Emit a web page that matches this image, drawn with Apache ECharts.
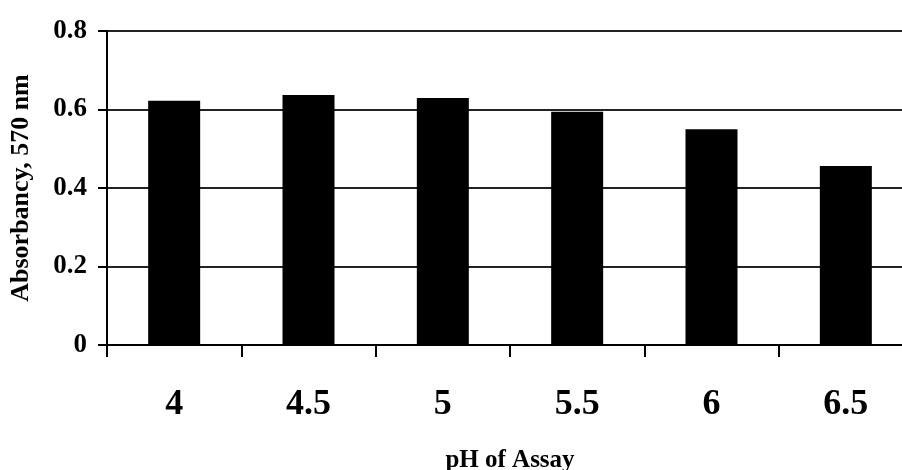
<!DOCTYPE html>
<html>
<head>
<meta charset="utf-8">
<script src="https://cdn.jsdelivr.net/npm/echarts@6/dist/echarts.min.js"></script>
<style>
html,body{margin:0;padding:0;background:#fff;overflow:hidden;}
#chart{width:902px;height:470px;}
</style>
</head>
<body>
<div id="chart"></div>
<script>
const categories = ['4', '4.5', '5', '5.5', '6', '6.5'];
const absorbancy = [0.622, 0.637, 0.629, 0.594, 0.550, 0.456];
const yTicks = [0, 0.2, 0.4, 0.6, 0.8];

const font = '"Liberation Serif", "Times New Roman", serif';
const chart = echarts.init(document.getElementById('chart'), null, {renderer: 'canvas'});
chart.setOption({
  animation: false,
  backgroundColor: '#fff',
  grid: {left: 107, right: -11, top: 31, bottom: 125, containLabel: false, outerBoundsMode: 'none'},
  xAxis: {
    type: 'category',
    data: categories,
    name: 'pH of Assay',
    nameLocation: 'middle',
    nameGap: 103,
    nameTextStyle: {fontFamily: font, fontWeight: 'bold', fontSize: 25, color: '#000'},
    axisLine: {show: true, lineStyle: {color: '#000', width: 2}},
    axisTick: {show: true, alignWithLabel: false, length: 12, lineStyle: {color: '#000', width: 2}},
    axisLabel: {fontFamily: font, fontWeight: 'bold', fontSize: 36, color: '#000', margin: 42},
    splitLine: {show: false}
  },
  yAxis: {
    type: 'value',
    min: yTicks[0],
    max: yTicks[yTicks.length - 1],
    interval: 0.2,
    name: 'Absorbancy, 570 nm',
    nameLocation: 'middle',
    nameGap: 73,
    nameTextStyle: {fontFamily: font, fontWeight: 'bold', fontSize: 26, color: '#000'},
    axisLine: {show: true, lineStyle: {color: '#000', width: 2}},
    axisTick: {show: true, inside: false, length: 9, lineStyle: {color: '#000', width: 2}},
    axisLabel: {
      fontFamily: font, fontWeight: 'bold', fontSize: 27, color: '#000', margin: 20,
      formatter: v => (v === 0 ? '0' : v.toFixed(1))
    },
    splitLine: {show: true, lineStyle: {color: '#222', width: 2}}
  },
  series: [{
    type: 'bar',
    data: absorbancy,
    barWidth: 52,
    itemStyle: {color: '#000'}
  }]
});
</script>
</body>
</html>
